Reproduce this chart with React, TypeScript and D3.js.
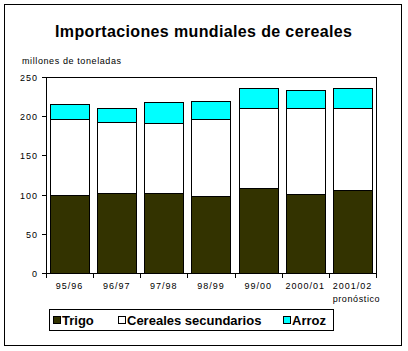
import * as React from 'react';
import * as d3 from 'd3';

const categories = ['95/96', '96/97', '97/98', '98/99', '99/00', '2000/01', '2001/02'];
const trigo = [100, 102, 102, 98, 109, 101, 106];
const cerealesSec = [96, 91, 89, 98, 102, 109, 105];
const arroz = [19, 18, 27, 24, 24.5, 24, 24.5];
const yTicks = [0, 50, 100, 150, 200, 250];
const seriesNames = ['Trigo', 'Cereales secundarios', 'Arroz'];
const seriesColors = ['#333300', '#ffffff', '#00ffff'];

const W = 408;
const H = 351;
const plot = { left: 46, right: 376, top: 77, bottom: 273 };
const font = 'Arial, "Liberation Sans", sans-serif';

export default function App() {
    const ref = React.useRef<SVGSVGElement>(null);

    React.useEffect(() => {
        const svg = d3.select(ref.current);
        svg.selectAll('*').remove();

        const rows = categories.map((c, i) => ({ cat: c, Trigo: trigo[i], 'Cereales secundarios': cerealesSec[i], Arroz: arroz[i] }));
        const stacked = d3.stack<any>().keys(seriesNames)(rows);

        const x = d3.scaleBand().domain(categories).range([plot.left, plot.right]).paddingInner(0.17).paddingOuter(0.085);
        const xEdges = d3.scaleBand().domain(categories).range([plot.left, plot.right]);
        const y = d3.scaleLinear().domain([0, 250]).range([plot.bottom, plot.top]);

        // outer frame
        svg.append('rect').attr('x', 4.5).attr('y', 4.5).attr('width', 397).attr('height', 341)
            .attr('fill', 'white').attr('stroke', 'black');

        svg.append('text').attr('x', 203.5).attr('y', 37).attr('text-anchor', 'middle')
            .style('font-family', font).style('font-size', '16px').style('font-weight', 'bold')
            .attr('textLength', 297).attr('lengthAdjust', 'spacing')
            .text('Importaciones mundiales de cereales');

        svg.append('text').attr('x', 22).attr('y', 64)
            .style('font-family', font).style('font-size', '9px')
            .style('letter-spacing', '0.6px')
            .text('millones de toneladas');

        // plot border
        svg.append('rect').attr('x', plot.left + 0.5).attr('y', plot.top + 0.5)
            .attr('width', plot.right - plot.left).attr('height', plot.bottom - plot.top)
            .attr('fill', 'none').attr('stroke', 'black');

        const g = svg.append('g');
        stacked.forEach((s, si) => {
            g.selectAll('.bar' + si)
                .data(s)
                .enter()
                .append('rect')
                .attr('x', (d: any) => Math.round(x(d.data.cat)!) + 0.5)
                .attr('y', (d) => Math.round(y(d[1])) + 0.5)
                .attr('width', Math.round(x.bandwidth()))
                .attr('height', (d) => Math.round(y(d[0])) - Math.round(y(d[1])))
                .attr('fill', seriesColors[si])
                .attr('stroke', 'black')
                .attr('stroke-width', 1);
        });

        // y axis
        const yAxis = svg.append('g');
        yAxis.append('line').attr('x1', plot.left + 0.5).attr('x2', plot.left + 0.5)
            .attr('y1', plot.top).attr('y2', plot.bottom + 0.5).attr('stroke', 'black');
        yTicks.forEach((t) => {
            const yy = Math.round(y(t)) + 0.5;
            yAxis.append('line').attr('x1', plot.left - 4).attr('x2', plot.left).attr('y1', yy).attr('y2', yy).attr('stroke', 'black');
            yAxis.append('text').attr('x', 38).attr('y', yy + 3.5).attr('text-anchor', 'end')
                .style('font-family', font).style('font-size', '9px')
                .style('letter-spacing', '1px')
                .text(String(t));
        });

        // x axis
        const xAxis = svg.append('g');
        xAxis.append('line').attr('x1', plot.left).attr('x2', plot.right + 1)
            .attr('y1', plot.bottom + 0.5).attr('y2', plot.bottom + 0.5).attr('stroke', 'black');
        categories.forEach((c, i) => {
            const xx = Math.round(xEdges(c)!) + 0.5;
            xAxis.append('line').attr('x1', xx).attr('x2', xx).attr('y1', plot.bottom).attr('y2', plot.bottom + 5).attr('stroke', 'black');
            if (i === categories.length - 1) {
                const xr = plot.right + 0.5;
                xAxis.append('line').attr('x1', xr).attr('x2', xr).attr('y1', plot.bottom).attr('y2', plot.bottom + 5).attr('stroke', 'black');
            }
            const cx = xEdges(c)! + xEdges.bandwidth() / 2;
            xAxis.append('text').attr('x', cx).attr('y', 289).attr('text-anchor', 'middle')
                .style('font-family', font).style('font-size', '9px')
                .style('letter-spacing', '1px')
                .text(c);
        });
        xAxis.append('text').attr('x', xEdges('2001/02')! + xEdges.bandwidth() / 2 + 4).attr('y', 302).attr('text-anchor', 'middle')
            .style('font-family', font).style('font-size', '9px')
            .style('letter-spacing', '0.6px')
            .text('pronóstico');

        // legend
        const lg = svg.append('g');
        lg.append('rect').attr('x', 49.5).attr('y', 309.5).attr('width', 284).attr('height', 21)
            .attr('fill', 'white').attr('stroke', 'black');
        const itemX = [53, 118, 283];
        seriesNames.forEach((n, i) => {
            lg.append('rect').attr('x', itemX[i] + 0.5).attr('y', 316.5).attr('width', 7).attr('height', 7)
                .attr('fill', seriesColors[i]).attr('stroke', 'black');
            lg.append('text').attr('x', itemX[i] + 9).attr('y', 325)
                .style('font-family', font).style('font-size', '13px')
                .style('font-weight', 'bold')
                .text(n);
        });
    }, []);

    return (
        <svg ref={ref} width={W} height={H} style={{ position: 'absolute', left: 0, top: 0 }}></svg>
    );
}
